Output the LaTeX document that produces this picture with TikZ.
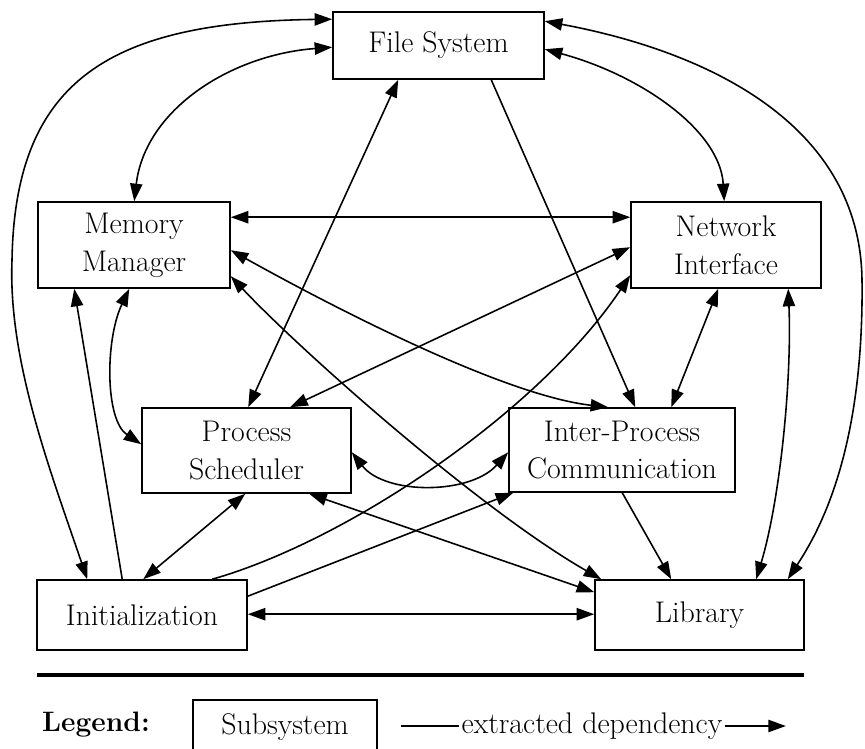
\documentclass[tikz,border=0pt]{standalone}
\usepackage{tikz}
\usetikzlibrary{arrows.meta,calc}

\tikzset{
  sub/.style={draw, line width=0.9pt, inner sep=0pt, align=center},
  >={Triangle[length=10pt,width=7pt]},
}

\begin{document}
\begin{tikzpicture}[x=0.02cm, y=-0.02cm, line width=0.9pt,
    every node/.style={font=\fontsize{17}{21.5}\selectfont}]
			%%%%% START %%%%%
			\useasboundingbox (0,0) rectangle (865,749);
			\clip (0,0) rectangle (865,749);
			
			\node[sub, minimum width=4.22cm, minimum height=1.34cm] (fs) at (438.5,45.5) {File System};
			\node[sub, minimum width=3.84cm, minimum height=1.72cm] (mm) at (134,245) {Memory\\Manager};
			\node[sub, minimum width=3.80cm, minimum height=1.72cm] (ni) at (726,245) {Network\\Interface};
			\node[sub, minimum width=4.18cm, minimum height=1.70cm] (ps) at (246.5,450.5) {Process\\Scheduler};
			\node[sub, minimum width=4.52cm, minimum height=1.68cm] (ipc) at (622,450) {Inter-Process\\Communication};
			\node[sub, minimum width=4.20cm, minimum height=1.40cm] (init) at (142,615) {Initialization};
			\node[sub, minimum width=4.18cm, minimum height=1.40cm] (lib) at (699.5,615) {Library};
			
			% outer loops round the file system
			\draw[<->] ($(init.north west)+(51,0)$) .. controls (50,470) and (8,360) .. (12,260)
			  .. controls (15,80) and (110,22) .. ($(fs.north west)+(0,8)$);
			\draw[<->] ($(mm.north west)+(97,0)$) .. controls (145,110) and (230,55) .. ($(fs.north west)+(0,36)$);
			\draw[<->] ($(fs.north east)+(0,38)$) .. controls (640,75) and (720,130) .. ($(ni.north west)+(94,0)$);
			\draw[<->] ($(fs.north east)+(0,10)$) .. controls (700,50) and (860,120) .. (862,280)
			  .. controls (864,450) and (820,530) .. ($(lib.north east)+(-17,0)$);
			
			\draw[<->] ($(mm.north east)+(0,16)$) -- ($(ni.north west)+(0,16)$);
			\draw[<->] ($(ps.north west)+(107,0)$) -- ($(fs.south west)+(66,0)$);
			\draw[->] ($(fs.south west)+(159,0)$) -- ($(ipc.north west)+(127,0)$);
			
			\draw[<->] ($(mm.south west)+(92,0)$) .. controls (105,340) and (105,420) .. ($(ps.north west)+(0,37)$);
			\draw[->] ($(init.north west)+(86,0)$) -- ($(mm.south west)+(37,0)$);
			\draw[<->] ($(mm.north east)+(0,49)$) .. controls (320,300) and (500,395) .. ($(ipc.north west)+(100,0)$);
			\draw[<->] ($(mm.north east)+(0,75)$) .. controls (300,350) and (480,510) .. ($(lib.north west)+(7,0)$);
			
			\draw[<->] ($(ni.north west)+(0,46)$) -- ($(ps.north west)+(149,0)$);
			\draw[->] ($(init.north west)+(176,0)$) .. controls (350,540) and (540,410) .. ($(ni.north west)+(0,74)$);
			\draw[<->] ($(ni.south west)+(88,0)$) -- ($(ipc.north west)+(163,0)$);
			\draw[<->] ($(ni.south west)+(158,0)$) .. controls (792,380) and (780,500) .. ($(lib.north west)+(162,0)$);
			
			\draw[<->] ($(ps.north east)+(0,45)$) .. controls (385,495) and (470,495) .. ($(ipc.north west)+(0,45)$);
			\draw[<->] ($(init.north west)+(107,0)$) -- ($(ps.south west)+(104,0)$);
			\draw[->] ($(init.north east)+(0,17)$) -- ($(ipc.south west)+(5,0)$);
			\draw[<->] ($(ps.south west)+(168,0)$) -- ($(lib.north west)+(0,13)$);
			\draw[<->] ($(init.north east)+(0,35)$) -- ($(lib.north west)+(0,35)$);
			\draw[->] ($(ipc.south west)+(114,0)$) -- ($(lib.north west)+(77,0)$);
			
			% legend
			\draw[line width=1.8pt] (37,675) -- (804,675);
			\node[font=\fontsize{16}{21.5}\selectfont\bfseries] (legend) at (96,725) {Legend:};
			\node[sub, minimum width=3.68cm, minimum height=1.08cm] (key) at (285,727) {Subsystem};
			\node[inner sep=1pt] (deptext) at (592,726) {extracted dependency};
			\draw (deptext.west) -- ++(-58,0);
			\draw[->] (deptext.east) -- ++(61,0);
			
			%%%%% END %%%%%
		\end{tikzpicture}
\end{document}
